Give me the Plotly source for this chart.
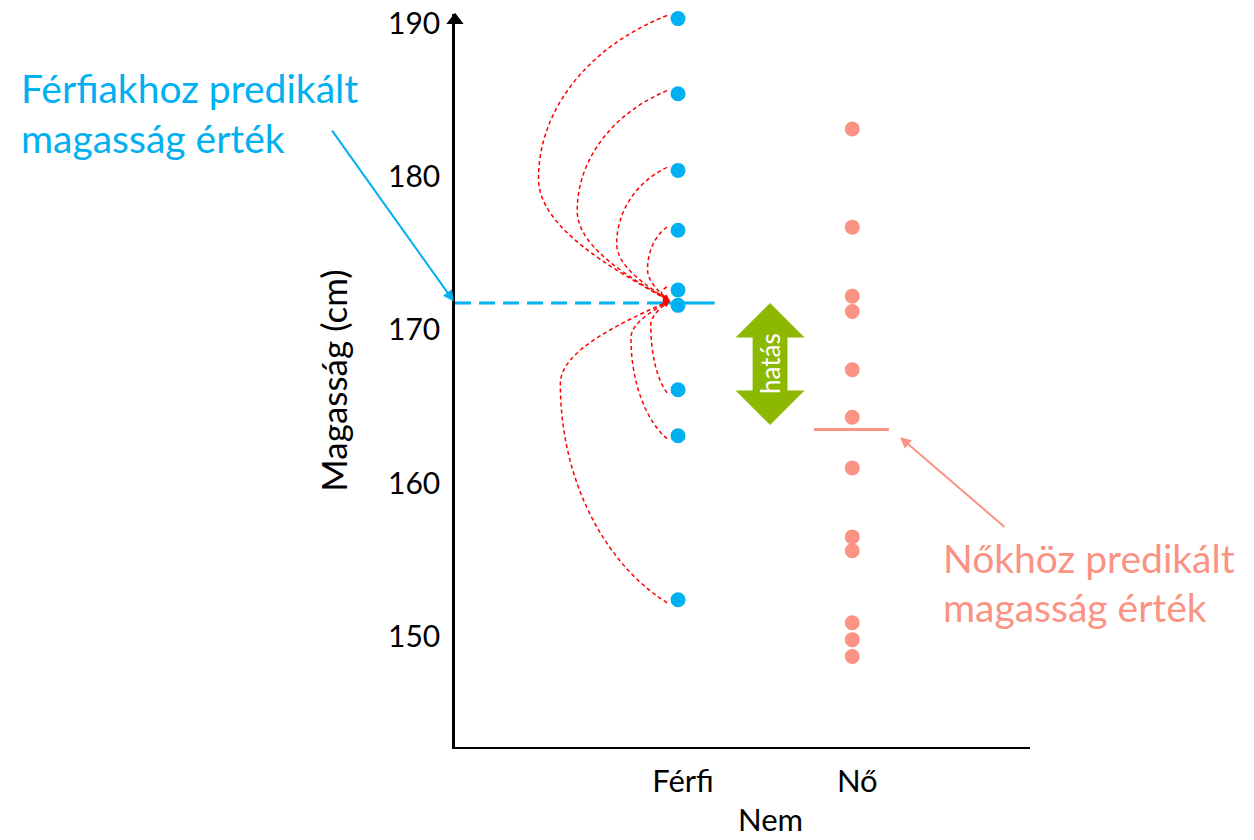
import math
import plotly.graph_objects as go

# ---------------- data ----------------
categories = ["Férfi", "Nő"]
category_x = [1, 2]
male_heights = [190.3, 185.4, 180.4, 176.5, 172.6, 171.6, 166.1, 163.1, 152.4]
female_heights = [183.1, 176.7, 172.2, 171.2, 167.4, 164.3, 161.0, 156.5, 155.6, 150.9, 149.8, 148.7]
male_pred = 171.75
female_pred = 163.5
y_ticks = [150, 160, 170, 180, 190]
y_range = [142.8, 190.6]
x_range = [-0.28, 3.02]

BLUE = "#00B0F0"
PINK = "#FA9383"
GREEN = "#8CB800"
RED = "#FF0000"
FONT = "Lato"

W, H = 1254, 840
ML, MR, MT, MB = 455, 224, 14, 93
SX = (W - ML - MR) / (x_range[1] - x_range[0])
SY = (H - MT - MB) / (y_range[1] - y_range[0])

fig = go.Figure()

# predicted-value lines
fig.add_trace(go.Scatter(x=[x_range[0], category_x[0] - 0.08], y=[male_pred, male_pred], mode="lines",
                         line=dict(color=BLUE, width=3, dash="16px,8px"), hoverinfo="skip", showlegend=False))
fig.add_trace(go.Scatter(x=[category_x[0] - 0.08, category_x[0] + 0.21], y=[male_pred, male_pred], mode="lines",
                         line=dict(color=BLUE, width=3), hoverinfo="skip", showlegend=False))
fig.add_trace(go.Scatter(x=[category_x[1] - 0.22, category_x[1] + 0.21], y=[female_pred, female_pred], mode="lines",
                         line=dict(color=PINK, width=3), hoverinfo="skip", showlegend=False))

# points
fig.add_trace(go.Scatter(x=[category_x[0]] * len(male_heights), y=male_heights, mode="markers",
                         marker=dict(color=BLUE, size=15), cliponaxis=False, showlegend=False, name="Férfi"))
fig.add_trace(go.Scatter(x=[category_x[1]] * len(female_heights), y=female_heights, mode="markers",
                         marker=dict(color=PINK, size=15), cliponaxis=False, showlegend=False, name="Nő"))

# y axis arrow head
fig.add_trace(go.Scatter(x=[x_range[0]], y=[190.2], mode="markers",
                         marker=dict(symbol="triangle-up", color="black", size=15),
                         cliponaxis=False, hoverinfo="skip", showlegend=False))

shapes = []
annotations = []

# red dashed curves from each male point to the male prediction
def to_px(x, y):
    return x * SX, -y * SY

def from_px(X, Y):
    return X / SX, -Y / SY

xs = category_x[0] - 0.063
xe = category_x[0] - 0.05
ye = male_pred + 0.15
for v in male_heights:
    d = v - male_pred
    if abs(d) < 0.5:
        continue
    up = d > 0
    ys = v + (0.2 if up else -0.2)
    if up:
        B = max(6.0, 7.9 * abs(d) - 18)
        f = 0.43
    else:
        B = max(6.0, 6.6 * abs(d) - 21)
        f = 0.28
    X0, Y0 = to_px(xs, ys)
    X3, Y3 = to_px(xe, ye)
    XL = min(X0, X3) - B
    _, YL = to_px(0, ye + f * d)
    s1 = YL - Y0
    s2 = Y3 - YL
    C1 = (X0 - 0.6 * B, Y0 + 0.185 * s1)
    C2 = (XL, YL - 0.43 * s1)
    C3 = (XL, YL + 0.4 * s2)
    C4 = (X3 - max(0.46 * B, 0.3 * abs(s2)), Y3 - 0.27 * s2)
    pts = [(X0, Y0), C1, C2, (XL, YL), C3, C4, (X3, Y3)]
    dp = [from_px(*p) for p in pts]
    path = "M {},{} C {},{} {},{} {},{} C {},{} {},{} {},{}".format(*[c for p in dp for c in p])
    shapes.append(dict(type="path", path=path, xref="x", yref="y",
                       line=dict(color=RED, width=1.5, dash="4px,3px")))
    tx, ty = X3 - C4[0], Y3 - C4[1]
    n = math.hypot(tx, ty) or 1
    annotations.append(dict(x=xe, y=ye, xref="x", yref="y", text="", showarrow=True,
                            ax=-tx / n * 9, ay=-ty / n * 9, axref="pixel", ayref="pixel",
                            arrowhead=2, arrowsize=1, arrowwidth=1.2, arrowcolor=RED))

# green double arrow showing the effect
cx = 1.528
hw, sw, hh = 0.198, 0.1, 2.25
top, bot = male_pred, female_pred + 0.3
arrow_path = (f"M {cx},{top} L {cx + hw},{top - hh} L {cx + sw},{top - hh} L {cx + sw},{bot + hh} "
              f"L {cx + hw},{bot + hh} L {cx},{bot} L {cx - hw},{bot + hh} L {cx - sw},{bot + hh} "
              f"L {cx - sw},{top - hh} L {cx - hw},{top - hh} Z")
shapes.append(dict(type="path", path=arrow_path, xref="x", yref="y", fillcolor=GREEN, line=dict(width=0)))
annotations.append(dict(x=cx, y=(top + bot) / 2, xref="x", yref="y", text="hatás", showarrow=False,
                        textangle=-90, font=dict(family=FONT, size=26, color="white")))

# blue annotation
annotations.append(dict(x=0, y=male_pred, xref="paper", yref="y", text="", showarrow=True,
                        ax=-124, ay=-174, axref="pixel", ayref="pixel",
                        arrowhead=2, arrowsize=1.1, arrowwidth=2, arrowcolor=BLUE, standoff=2))
annotations.append(dict(x=-0.758, y=0.899, xref="paper", yref="paper", text="Férfiakhoz predikált",
                        showarrow=False, xanchor="left", yanchor="middle",
                        font=dict(family=FONT, size=39, color=BLUE)))
annotations.append(dict(x=-0.758, y=0.831, xref="paper", yref="paper", text="magasság érték",
                        showarrow=False, xanchor="left", yanchor="middle",
                        font=dict(family=FONT, size=39, color=BLUE)))

# pink annotation
annotations.append(dict(x=2.274, y=163.0, xref="x", yref="y", text="", showarrow=True,
                        ax=106, ay=91, axref="pixel", ayref="pixel",
                        arrowhead=2, arrowsize=1.1, arrowwidth=2, arrowcolor=PINK))
annotations.append(dict(x=0.846, y=0.2575, xref="paper", yref="paper", text="Nőkhöz predikált",
                        showarrow=False, xanchor="left", yanchor="middle",
                        font=dict(family=FONT, size=39, color=PINK)))
annotations.append(dict(x=0.846, y=0.1905, xref="paper", yref="paper", text="magasság érték",
                        showarrow=False, xanchor="left", yanchor="middle",
                        font=dict(family=FONT, size=39, color=PINK)))

# x axis title
annotations.append(dict(x=0.548, y=-0.098, xref="paper", yref="paper", text="Nem", showarrow=False,
                        xanchor="center", yanchor="middle", font=dict(family=FONT, size=31, color="black")))

fig.update_layout(
    width=W, height=H,
    margin=dict(l=ML, r=MR, t=MT, b=MB),
    plot_bgcolor="white", paper_bgcolor="white",
    font=dict(family=FONT, size=30, color="black"),
    shapes=shapes, annotations=annotations,
    showlegend=False,
)
fig.update_xaxes(range=x_range, tickvals=category_x, ticktext=categories, showgrid=False, zeroline=False,
                 showline=True, linecolor="black", linewidth=2, ticks="outside", ticklen=6,
                 tickcolor="rgba(0,0,0,0)", tickfont=dict(size=31), automargin=False,
                 ticklabeloverflow="allow", ticklabelshift=5)
fig.update_yaxes(range=y_range, tickvals=y_ticks, showgrid=False, zeroline=False,
                 showline=True, linecolor="black", linewidth=2.5, ticks="outside", ticklen=6,
                 tickcolor="rgba(0,0,0,0)", tickfont=dict(size=30), automargin=False,
                 ticklabeloverflow="allow",
                 title=dict(text="Magasság (cm)", font=dict(size=35), standoff=30))

fig.write_html("out.html", config={"displayModeBar": False},
               post_script="document.body.style.margin='0'; document.body.style.overflow='hidden';")
